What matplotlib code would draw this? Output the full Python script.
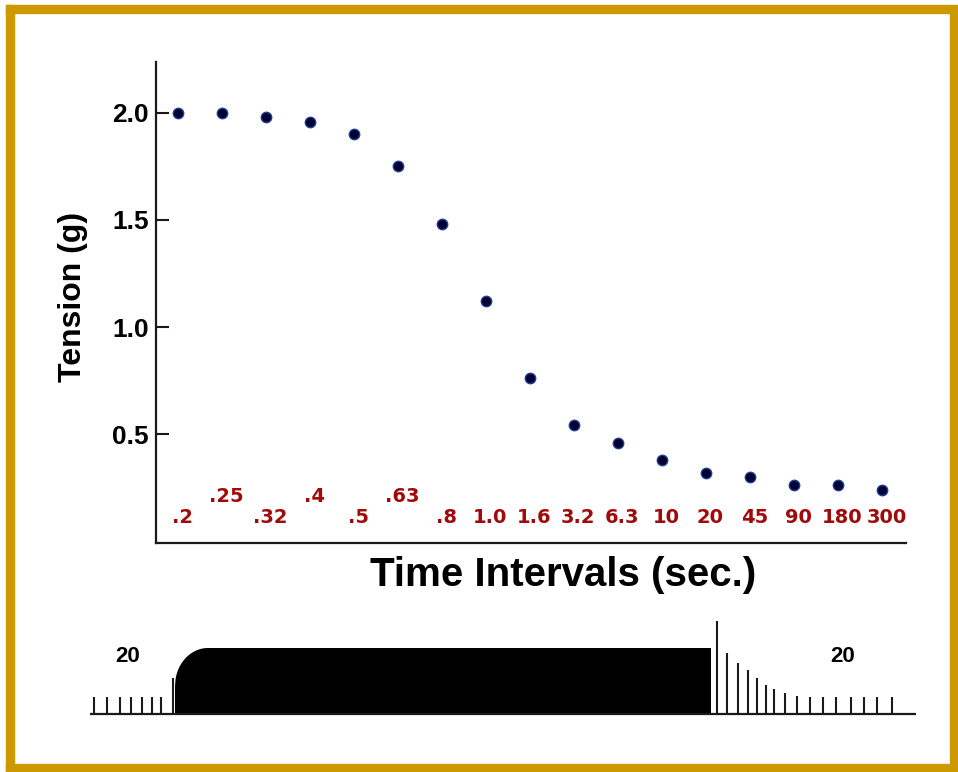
import numpy as np
import matplotlib
matplotlib.use("Agg")
import matplotlib.pyplot as plt
from matplotlib.patches import Rectangle

# ---- data -----------------------------------------------------------------
interval_labels = [".2", ".25", ".32", ".4", ".5", ".63", ".8", "1.0", "1.6",
                   "3.2", "6.3", "10", "20", "45", "90", "180", "300"]
tension_g = [2.00, 2.00, 1.98, 1.96, 1.90, 1.75, 1.48, 1.12, 0.76,
             0.54, 0.46, 0.38, 0.32, 0.30, 0.26, 0.26, 0.24]
raised_labels = {".25", ".4", ".63"}
yticks = [0.5, 1.0, 1.5, 2.0]

# stimulation protocol sketch (time in arbitrary units, twitch heights)
pre_times = [4, 17, 30, 41, 52, 62, 71]
pre_heights = [17, 17, 17, 17, 17, 17, 17]
onset_time, onset_height = 83, 36
tetanus_start, tetanus_plateau, tetanus_end = 85, 118, 621
tetanus_height = 66
post_times = [627, 637, 648, 658, 667, 676, 684, 695, 707,
              720, 733, 746, 761, 774, 787, 802]
post_heights = [93, 61, 51, 44, 36, 29, 25, 21, 18,
                17, 17, 17, 17, 17, 17, 17]
rate_label = "20"

# ---- figure ---------------------------------------------------------------
W, H = 958, 772
fig = plt.figure(figsize=(W / 100, H / 100), dpi=100)
fig.patch.set_facecolor("white")

gold = "#CC9A00"
for (x0, y0, w, h) in [(6, 5, 944, 8), (6, 5, 8, 767), (950, 5, 8, 767), (6, 764, 952, 8)]:
    fig.patches.append(Rectangle((x0 / W, 1 - (y0 + h) / H), w / W, h / H,
                                 transform=fig.transFigure, color=gold, zorder=0))

font = "Liberation Sans"
red = "#A00A0A"

ax = fig.add_axes([156 / W, 1 - 543 / H, 750 / W, 481 / H])
x = np.arange(len(tension_g))
ax.plot(x, tension_g, "o", ms=7.5, mfc="#000030", mec="#1d3f9a", mew=1.0, zorder=3)
ax.set_xlim(-0.5, 16.545)
ax.set_ylim(-0.009, 2.238)

for sp in ("top", "right"):
    ax.spines[sp].set_visible(False)
for sp in ("left", "bottom"):
    ax.spines[sp].set_linewidth(1.6)
    ax.spines[sp].set_color("#1a1a1a")

ax.set_xticks([])
ax.set_yticks(yticks)
ax.set_yticklabels([f"{v:.1f}" for v in yticks], fontfamily=font,
                   fontweight="bold", fontsize=19)
ax.tick_params(axis="y", direction="in", length=9.5, width=1.5, pad=5,
               color="#1a1a1a")

for i, lab in enumerate(interval_labels):
    yy = 0.21 if lab in raised_labels else 0.112
    ax.text(i + 0.1, yy, lab, color=red, fontsize=14, fontweight="bold",
            family="DejaVu Sans", ha="center", va="center")

fig.text(370 / W, 1 - 586 / H, "Time Intervals (sec.)", fontfamily=font,
         fontweight="bold", fontsize=29, ha="left", va="baseline")
fig.text(72.5 / W, 1 - 382 / H, "Tension (g)", fontfamily=font,
         fontweight="bold", fontsize=23, rotation=90, ha="center", va="bottom")

# ---- stimulation protocol -------------------------------------------------
ax2 = fig.add_axes([90 / W, 1 - 716 / H, 826 / W, 104 / H])
ax2.set_xlim(0, 826)
ax2.set_ylim(-2, 102)
ax2.axis("off")

ax2.plot([0, 826], [0, 0], color="#1a1a1a", lw=1.6, solid_capstyle="butt")
ax2.vlines(pre_times, 0, pre_heights, color="#1a1a1a", lw=1.5)
ax2.vlines([onset_time], 0, [onset_height], color="#1a1a1a", lw=1.5)

# tetanic fusion: rounded rise to a plateau
t_rise = np.linspace(tetanus_start, tetanus_plateau, 60)
h0 = 28
h_rise = h0 + (tetanus_height - h0) * np.sqrt(
    1 - ((tetanus_plateau - t_rise) / (tetanus_plateau - tetanus_start)) ** 2)
t_all = np.concatenate([[tetanus_start], t_rise, [tetanus_end, tetanus_end]])
h_all = np.concatenate([[0], h_rise, [tetanus_height, 0]])
ax2.fill(t_all, h_all, color="black", lw=0)

ax2.vlines(post_times, 0, post_heights, color="#1a1a1a", lw=1.5)

ax2.text(38, 57, rate_label, fontfamily=font, fontweight="bold", fontsize=16,
         ha="center", va="center")
ax2.text(753, 57, rate_label, fontfamily=font, fontweight="bold", fontsize=16,
         ha="center", va="center")

fig.savefig("out.png", dpi=100)
